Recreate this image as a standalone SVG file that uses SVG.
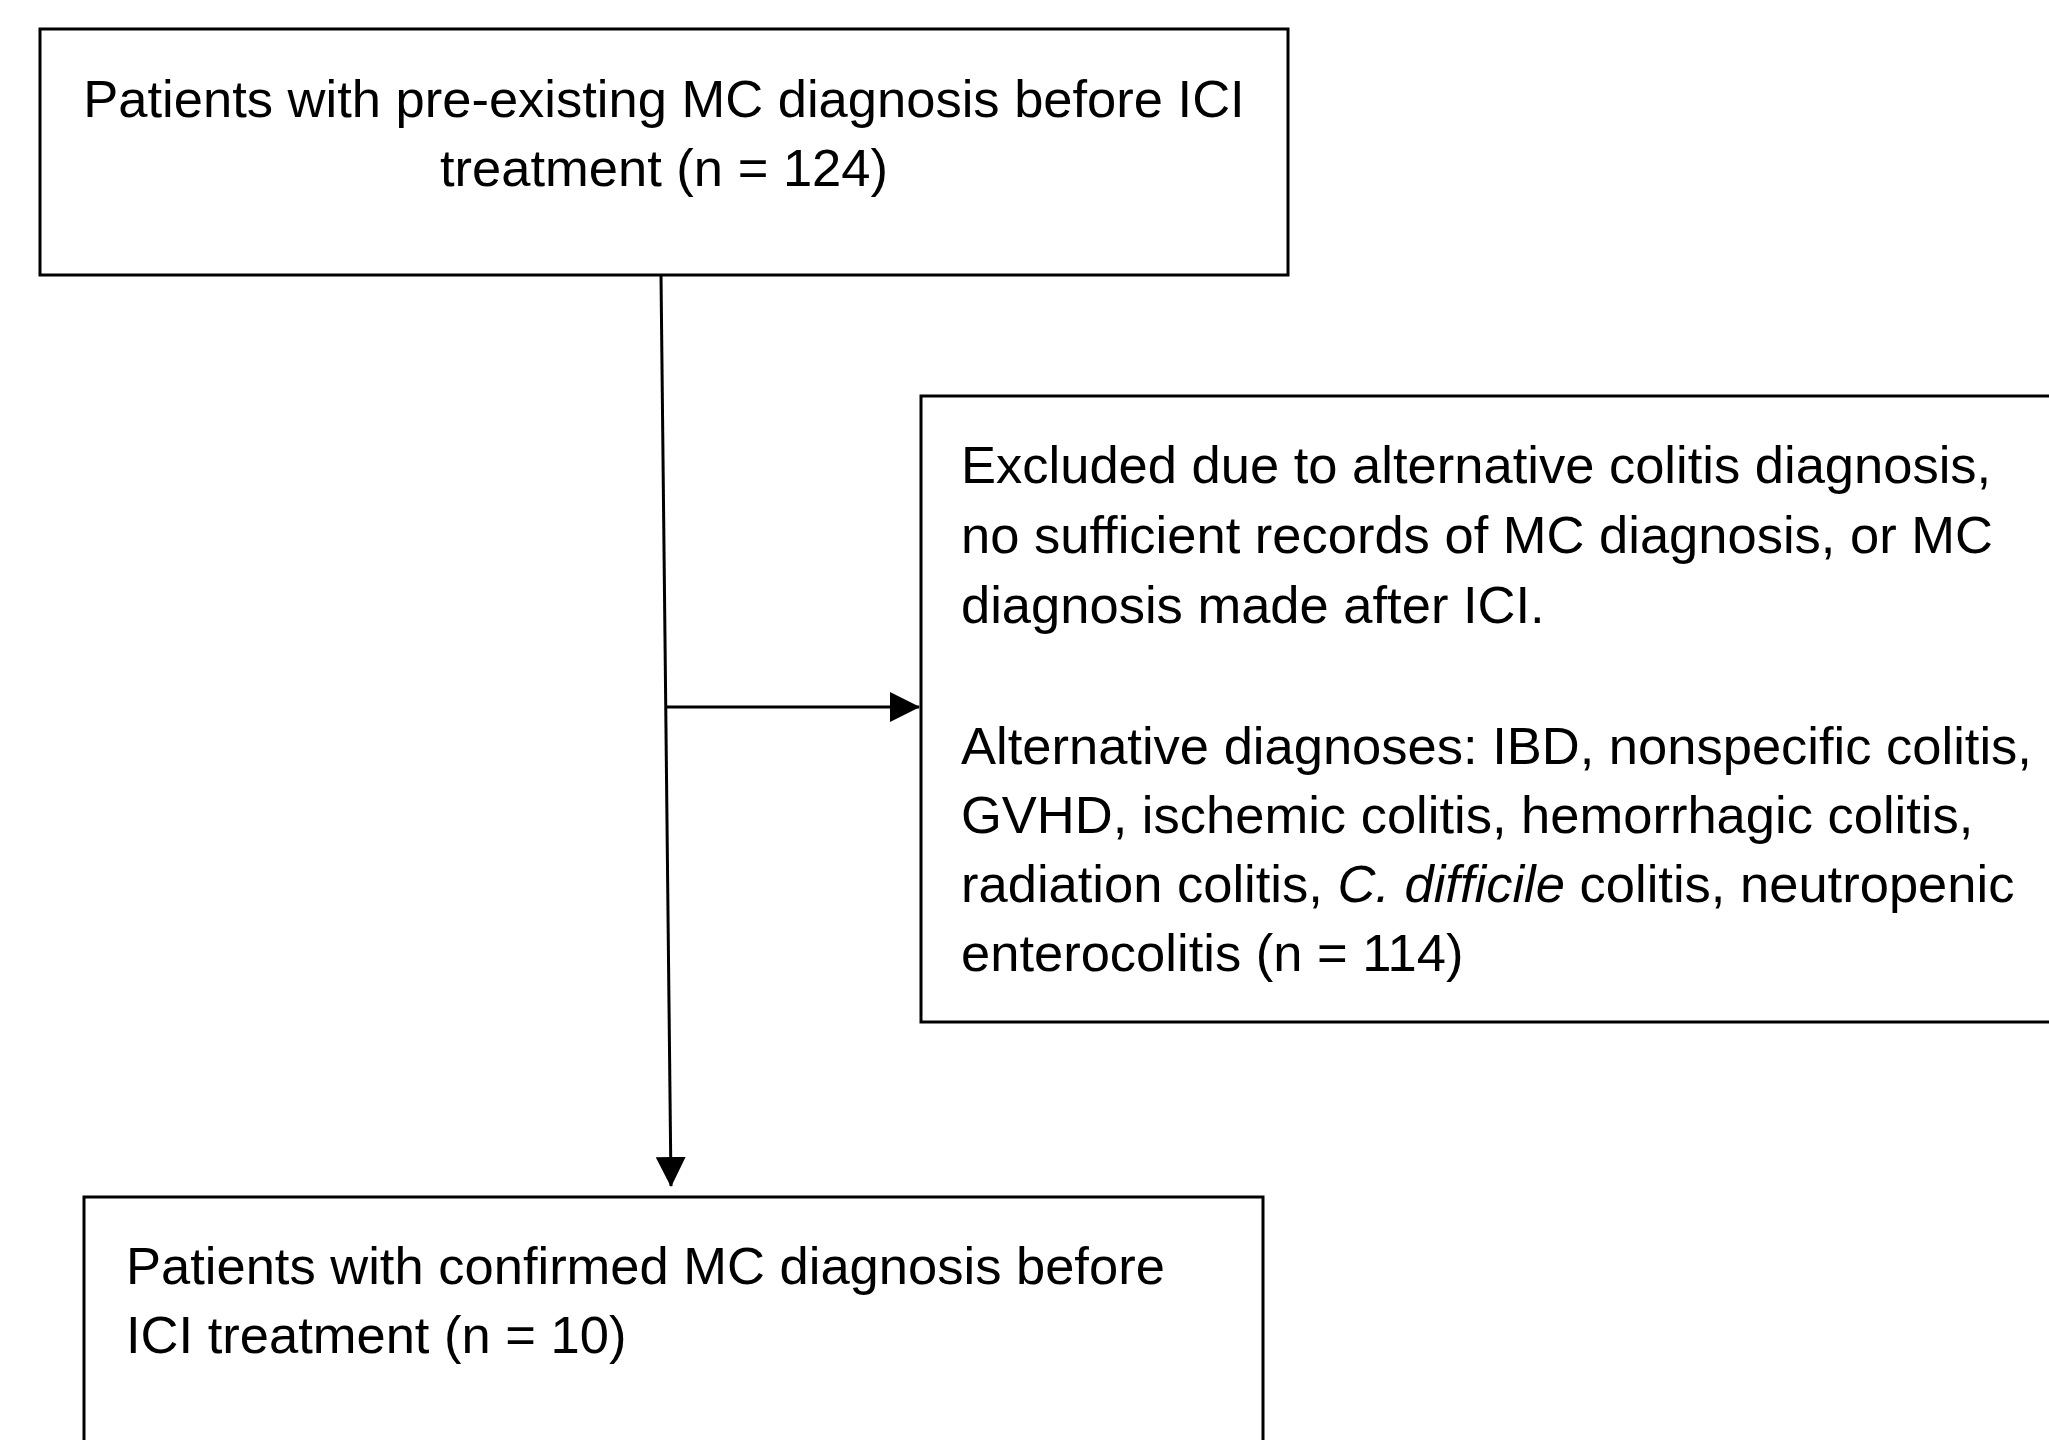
<svg xmlns="http://www.w3.org/2000/svg" width="2049" height="1440" viewBox="0 0 2049 1440">
<style>
.box{fill:#fff;stroke:#000;stroke-width:3}
.t{font-family:"Liberation Sans",Arial,sans-serif;font-size:52.5px;fill:#000}
.c{fill:none;stroke:#000;stroke-width:3}
</style>
<defs>
<marker id="ah" markerUnits="userSpaceOnUse" markerWidth="30" markerHeight="30" viewBox="0 0 30 30" refX="29" refY="15" orient="auto">
<path d="M0,0 L30,15 L0,30 Z" fill="#000"/>
</marker>
</defs>
<rect width="2049" height="1440" fill="#fff"/>
<g id="connectors">
<line class="c" x1="661" y1="275" x2="671" y2="1186" marker-end="url(#ah)"/>
<line class="c" x1="666" y1="707" x2="919" y2="707" marker-end="url(#ah)"/>
</g>
<g id="node-top">
<rect class="box" x="40" y="29" width="1248" height="246"/>
<text class="t" x="664" y="117" text-anchor="middle">Patients with pre-existing MC diagnosis before ICI</text>
<text class="t" x="664" y="186" text-anchor="middle">treatment (n = 124)</text>
</g>
<g id="node-excluded">
<rect class="box" x="921" y="396" width="1140" height="626"/>
<text class="t" x="961" y="483">Excluded due to alternative colitis diagnosis,</text>
<text class="t" x="961" y="553">no sufficient records of MC diagnosis, or MC</text>
<text class="t" x="961" y="623">diagnosis made after ICI.</text>
<text class="t" x="961" y="764">Alternative diagnoses: IBD, nonspecific colitis,</text>
<text class="t" x="961" y="833">GVHD, ischemic colitis, hemorrhagic colitis,</text>
<text class="t" x="961" y="902">radiation colitis, <tspan font-style="italic">C. difficile</tspan> colitis, neutropenic</text>
<text class="t" x="961" y="971">enterocolitis (n = 114)</text>
</g>
<g id="node-bottom">
<rect class="box" x="84" y="1197" width="1179" height="260"/>
<text class="t" x="126" y="1284">Patients with confirmed MC diagnosis before</text>
<text class="t" x="126" y="1353">ICI treatment (n = 10)</text>
</g>
</svg>
